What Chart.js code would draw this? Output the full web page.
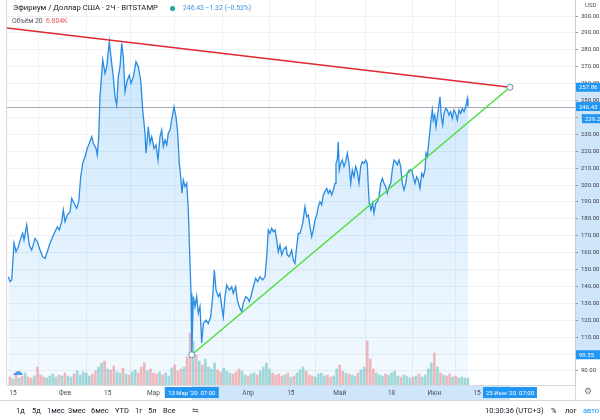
<!DOCTYPE html>
<html>
<head>
<meta charset="utf-8">
<title>ETHUSD 2Ч</title>
<script src="https://cdn.jsdelivr.net/npm/chart.js@4.4.1/dist/chart.umd.min.js"></script>
<style>
    html, body { margin: 0; padding: 0; background: #fff; }
    #wrap { position: relative; width: 600px; height: 420px; overflow: hidden; font-family: Roboto, "Noto Sans", sans-serif; color: #131722; }
    #myChart { position: absolute; left: 0; top: 0; }
    .t { position: absolute; white-space: nowrap; line-height: 1; }
    .bar span { position: absolute; top: 0; }
</style>
</head>
<body>
<div id="wrap">
    <canvas id="myChart" width="600" height="420"></canvas>

    <div class="t" style="left:13px;top:4px;font-size:7.7px;">Эфириум / Доллар США · 2Ч · BITSTAMP</div>
    <div style="position:absolute;left:170px;top:6px;width:5px;height:5px;border-radius:50%;background:#26a69a;"></div>
    <div class="t" style="left:183px;top:5px;font-size:6.8px;color:#3b8fe0;">246.43 −1.32 (−0.53%)</div>
    <div class="t" style="left:12px;top:18px;font-size:6.8px;color:#50535e;">Объём 20 &nbsp;<span style="color:#ef5350;">6.804K</span></div>
    <div class="t" style="left:585px;top:2px;font-size:6px;color:#50535e;">USD</div>
    <div class="t" style="left:12px;top:366px;font-size:11px;color:#4f9be6;">☁</div>
    <div class="t" style="left:584px;top:387px;font-size:9px;color:#787b86;">⚙</div>

    <div class="t bar" style="left:0;top:407px;font-size:7.5px;color:#131722;">
        <span style="left:16px">1д</span>
        <span style="left:32px">5д</span>
        <span style="left:47px">1мес</span>
        <span style="left:68px">3мес</span>
        <span style="left:91px">6мес</span>
        <span style="left:115px">YTD</span>
        <span style="left:135px">1г</span>
        <span style="left:148px">5л</span>
        <span style="left:163px">Все</span>
        <span style="left:192px;color:#787b86">⇆</span>
        <span style="left:485px">10:30:36 (UTC+3)</span>
        <span style="left:551px">%</span>
        <span style="left:565px">лог</span>
        <span style="left:583px;color:#2196f3">авто</span>
    </div>
</div>

<script>
// closes, 2h chart; day of 2020 (0 = 1 Jan)
const priceDays = [
    12.46, 13.02, 13.57, 14.33, 14.98, 15.74, 16.52, 17.18, 17.60, 18.49,
    19.34, 20.12, 21.20, 21.96, 22.84, 23.73, 24.48, 25.23, 26.12, 27.00,
    27.76, 28.51, 29.16, 29.95, 30.47, 31.03, 31.78, 32.67, 33.22, 33.98,
    34.86, 35.52, 36.17, 36.83, 37.58, 38.33, 38.99, 39.77, 40.30, 41.18,
    41.61, 42.07,
    42.49, 43.38, 44.13, 44.69, 45.54, 46.32, 46.85, 47.41, 47.96, 48.49,
    49.04, 49.60, 50.12, 50.68, 51.43, 52.09, 52.65, 53.40, 54.28, 55.04,
    55.82, 56.48, 57.23, 57.56, 58.31, 58.87, 59.42, 60.18, 60.83, 61.49,
    62.14, 62.70, 63.22, 63.78, 64.34, 64.86, 65.42, 65.97, 66.73, 67.38,
    67.94, 68.46, 68.92, 69.35, 69.77, 70.33, 70.89, 71.41, 71.97, 72.30,
    72.55, 73.05, 73.60, 74.16, 74.69,
    75.24, 75.80, 76.32, 77.21, 77.96, 78.75, 79.40, 79.93, 80.48, 81.24,
    81.79, 82.35, 82.87, 83.43, 83.99, 84.84, 85.62, 86.15, 86.93, 87.46,
    88.11, 88.90, 89.42, 90.21, 90.86, 91.39, 91.95, 92.70, 93.48, 94.14,
    94.89, 95.78, 96.53, 97.09, 97.61, 98.17, 98.72, 99.25, 99.81, 100.36,
    100.89, 101.44, 102.00, 102.52, 103.41, 103.83, 104.49, 105.27, 105.80, 106.36,
    106.91, 107.44,
    107.99, 108.88, 109.63, 110.19, 110.71, 111.27, 111.82, 112.35, 112.91, 113.46,
    113.99, 114.54, 115.10, 115.62, 116.18, 116.74, 117.26, 117.82, 118.37, 118.90,
    119.46, 119.78, 120.21, 120.53, 120.86, 121.32, 121.85, 122.40, 122.96, 123.48,
    124.04, 124.60, 125.12, 125.68, 126.23, 126.76, 127.32, 127.87, 128.40, 128.95,
    129.51, 130.03, 130.36, 130.69, 131.25, 131.80, 132.23, 132.79, 133.31, 133.87,
    134.42, 134.95, 135.50, 136.06, 136.58, 137.14, 137.70, 138.22, 138.78, 139.33,
    139.86, 140.42,
    140.97, 141.50, 142.05, 142.61, 143.13, 143.79, 144.57, 145.10, 145.66, 146.21,
    146.74, 147.29, 147.85, 148.37, 148.93, 149.26, 149.68, 150.14, 150.57, 150.90,
    151.32, 151.65, 152.11, 152.53, 152.96, 153.42, 153.84, 154.27, 154.73, 155.15,
    155.71, 156.23, 156.79, 157.34, 157.87, 158.43, 158.98, 159.51, 160.07, 160.62,
    161.15, 161.70, 162.26, 162.78, 163.01
];
const priceVals = [
    145.7, 142.8, 143.8, 165.7, 160.5, 163.5, 168.4, 171.4, 167.5, 176.3,
    164.5, 161.5, 168.4, 166.4, 161.5, 157.6, 156.6, 160.5, 165.5, 169.4,
    172.4, 175.3, 173.4, 178.3, 185.2, 178.3, 182.2, 184.2, 192.1, 189.2,
    186.2, 190.1, 204.9, 212.8, 216.7, 221.7, 224.7, 228.6, 224.7, 221.7,
    217.8, 228.6,
    252.2, 274.0, 266.0, 270.0, 284.8, 272.0, 264.0, 252.2, 247.3, 264.0,
    270.0, 283.8, 275.9, 255.2, 262.0, 265.0, 260.2, 264.0, 273.0, 270.0,
    262.0, 244.4, 230.6, 218.8, 234.5, 224.7, 228.6, 221.7, 223.7, 214.8,
    228.6, 232.5, 222.7, 226.6, 223.7, 230.6, 232.5, 238.5, 246.3, 240.4,
    230.6, 212.8, 204.9, 195.1, 203.0, 199.0, 201.0, 185.2, 153.7, 135.9,
    99.6, 134.0, 128.0, 134.0, 124.1,
    128.0, 106.5, 118.0, 120.0, 118.0, 122.0, 134.0, 149.7, 137.9, 134.0,
    135.9, 128.0, 122.0, 134.0, 140.8, 137.9, 139.8, 135.9, 139.8, 132.0,
    128.0, 125.0, 130.0, 134.0, 133.0, 131.0, 134.0, 139.8, 144.8, 142.8,
    145.7, 143.8, 145.7, 157.6, 173.4, 171.4, 174.4, 172.4, 173.4, 167.5,
    160.5, 164.5, 158.6, 161.5, 163.5, 158.6, 157.6, 161.5, 155.6, 153.7,
    163.5, 171.4,
    171.4, 177.3, 187.2, 181.3, 182.2, 175.4, 169.4, 173.4, 179.3, 182.2,
    187.2, 190.1, 188.2, 194.1, 196.1, 198.0, 195.1, 197.0, 194.1, 197.0,
    201.0, 212.8, 214.8, 225.6, 208.9, 212.8, 214.8, 210.9, 213.8, 218.8,
    212.8, 201.0, 208.9, 204.9, 210.9, 207.9, 201.0, 210.9, 213.8, 212.8,
    214.8, 212.8, 199.0, 189.2, 185.2, 189.2, 183.2, 189.2, 190.1, 193.1,
    201.0, 204.0, 201.0, 199.0, 195.1, 199.0, 201.0, 208.9, 214.8, 213.8,
    211.9, 214.8,
    210.9, 201.0, 197.0, 201.0, 206.9, 208.9, 208.9, 204.9, 201.0, 204.9,
    203.0, 198.0, 206.9, 204.9, 208.9, 218.8, 216.8, 224.7, 232.5, 238.4,
    244.4, 238.4, 241.4, 234.5, 240.4, 246.3, 252.2, 240.4, 235.5, 242.4,
    245.3, 244.4, 241.4, 243.4, 239.4, 244.4, 242.4, 238.4, 244.4, 242.4,
    245.3, 243.4, 246.3, 251.2, 246.43
];

// volume in K, one bar per day from 13 Jan
const volFirstDay = 13;
const volumes = [
    8, 6, 10, 7, 9, 12, 8, 7,
    9, 18, 10, 8, 7, 9, 11, 8, 10, 9,
    12, 9, 8, 11, 14, 10, 13, 12, 9, 11,
    14, 18, 22, 24, 16, 15, 19, 13, 12, 17,
    11, 10, 13, 15, 12, 18, 22, 14, 16, 12,
    11, 13, 10, 12, 9, 17, 20, 14, 16, 18,
    28, 52, 44, 30, 24, 20, 26, 18, 16, 22,
    15, 13, 17, 14, 12, 11, 13, 16, 14, 10,
    9, 11, 12, 10, 14, 18, 22, 16, 12, 10,
    11, 9, 10, 12, 8, 9, 12, 15, 18, 14,
    10, 9, 8, 11, 12, 9, 10, 8, 9, 16,
    20, 14, 12, 11, 10, 9, 12, 15, 18, 44,
    26, 16, 12, 10, 9, 11, 10, 12, 14, 9,
    8, 10, 9, 7, 8, 9, 11, 8, 10, 16,
    22, 32, 18, 12, 10, 9, 11, 8, 9, 7,
    8, 7, 7
];

// drawings
const redDays = [12.03, 176.77];
const redPrices = [292.96, 257.86];
const greenDays = [72.55, 176.77];
const greenPrices = [99.55, 257.86];

// axes
const timeTicks = [14, 31, 45, 60, 74, 91, 105, 121, 138, 152, 166];
const timeLabels = ['15', 'Фев', '15', 'Мар', '15', 'Апр', '15', 'Май', '18', 'Июн', '15'];
const priceTicks = [90, 100, 110, 120, 130, 140, 150, 160, 170, 180, 190, 200, 210, 220, 230, 240, 250, 260, 270, 280, 290, 300];
const axisMarks = [257.86, 246.43, 239.24, 99.55];
const timeMarkLabels = ["13 Мар '20  07:00", "25 Июн '20  07:00"];

Chart.defaults.font.family = 'Roboto, "Noto Sans", sans-serif';

function priceAt(d) {
    let best = 0;
    for (let i = 0; i < priceDays.length; i++) {
        if (Math.abs(priceDays[i] - d) < Math.abs(priceDays[best] - d)) best = i;
    }
    return priceVals[best];
}

const volData = volumes.map((v, i) => ({ x: volFirstDay + i, y: v }));
const volColors = volData.map(p => priceAt(p.x + 0.5) >= priceAt(p.x - 0.5) ? 'rgba(38,166,154,0.4)' : 'rgba(239,83,80,0.4)');

const tvDecor = {
    id: 'tvDecor',
    beforeDraw(chart) {
        const { ctx, chartArea: a, scales: { x, y } } = chart;
        ctx.save();
        ctx.fillStyle = '#fff';
        ctx.fillRect(0, 0, chart.width, chart.height);
        // selection bands on both axes
        ctx.fillStyle = '#cfe5fa';
        const yTop = y.getPixelForValue(greenPrices[1]);
        const yBot = y.getPixelForValue(greenPrices[0]);
        ctx.fillRect(a.right, yTop, chart.width - a.right, yBot - yTop);
        const xL = x.getPixelForValue(greenDays[0]);
        const xR = x.getPixelForValue(greenDays[1]);
        ctx.fillRect(xL, a.bottom + 1, xR - xL, 14);
        ctx.restore();
    },
    beforeDatasetsDraw(chart) {
        const { ctx, chartArea: a, scales: { y } } = chart;
        const py = Math.round(y.getPixelForValue(priceVals[priceVals.length - 1])) + 0.5;
        ctx.save();
        ctx.strokeStyle = '#a3aab6';
        ctx.lineWidth = 1;
        ctx.beginPath();
        ctx.moveTo(a.left, py);
        ctx.lineTo(a.right, py);
        ctx.stroke();
        ctx.restore();
    },
    afterDraw(chart) {
        const { ctx, chartArea: a, scales: { x, y } } = chart;
        ctx.save();
        // borders
        ctx.strokeStyle = '#d6d9e0';
        ctx.lineWidth = 1;
        ctx.beginPath();
        ctx.moveTo(a.left - 0.5, 0);
        ctx.lineTo(a.left - 0.5, a.bottom);
        ctx.moveTo(a.right + 0.5, a.bottom);
        ctx.lineTo(a.right + 0.5, 400);
        ctx.moveTo(0, 400.5);
        ctx.lineTo(chart.width, 400.5);
        ctx.stroke();

        // price labels on the axis
        ctx.font = '6px Roboto';
        ctx.textBaseline = 'middle';
        ctx.textAlign = 'left';
        axisMarks.forEach((v, i) => {
            const py = y.getPixelForValue(v);
            const left = i === 2 ? 582 : a.right + 1;
            ctx.fillStyle = '#2196f3';
            ctx.fillRect(left, py - 4.5, chart.width - left, 9);
            ctx.fillStyle = '#fff';
            ctx.fillText(v.toFixed(2), left + 3, py + 0.5);
        });

        // time labels of the drawing
        ctx.textAlign = 'center';
        greenDays.forEach((d, i) => {
            const px = x.getPixelForValue(d);
            ctx.fillStyle = '#2196f3';
            ctx.fillRect(px - 27, a.bottom + 2, 54, 11);
            ctx.fillStyle = '#fff';
            ctx.fillText(timeMarkLabels[i], px, a.bottom + 8);
        });
        ctx.restore();
    }
};

const ctx = document.getElementById('myChart');
new Chart(ctx, {
    type: 'line',
    data: {
        datasets: [
            {
                type: 'bar',
                label: 'Объём',
                data: volData,
                backgroundColor: volColors,
                barThickness: 2,
                yAxisID: 'yVol',
                order: 3
            },
            {
                label: 'ETHUSD',
                data: priceDays.map((d, i) => ({ x: d, y: priceVals[i] })),
                borderColor: '#2a8be3',
                borderWidth: 1.3,
                pointRadius: 0,
                tension: 0,
                fill: 'start',
                backgroundColor: function (c) {
                    const area = c.chart.chartArea;
                    if (!area) return 'rgba(33,150,243,0.15)';
                    const g = c.chart.ctx.createLinearGradient(0, area.top, 0, area.bottom);
                    g.addColorStop(0, 'rgba(33,150,243,0.26)');
                    g.addColorStop(1, 'rgba(33,150,243,0.05)');
                    return g;
                },
                yAxisID: 'y',
                order: 2
            },
            {
                label: 'red',
                data: redDays.map((d, i) => ({ x: d, y: redPrices[i] })),
                borderColor: '#e3262f',
                borderWidth: 1.5,
                pointRadius: 0,
                yAxisID: 'y',
                order: 1
            },
            {
                label: 'green',
                data: greenDays.map((d, i) => ({ x: d, y: greenPrices[i] })),
                borderColor: '#4ddf3c',
                borderWidth: 1.5,
                pointRadius: 3,
                pointBorderWidth: 1,
                pointBackgroundColor: '#fff',
                pointBorderColor: '#6a8fc0',
                yAxisID: 'y',
                order: 0
            }
        ]
    },
    options: {
        responsive: false,
        devicePixelRatio: 1,
        animation: false,
        layout: { autoPadding: false, padding: { left: 7, top: 0, right: 0, bottom: 20 } },
        plugins: {
            legend: { display: false },
            tooltip: { enabled: false }
        },
        scales: {
            x: {
                type: 'linear',
                min: 12.03,
                max: 198.06,
                offset: false,
                afterBuildTicks: (scale) => {
                    scale.ticks = timeTicks.map(v => ({ value: v }));
                },
                afterFit: (scale) => {
                    scale.height = 15;
                    scale.paddingLeft = 0;
                    scale.paddingRight = 0;
                },
                grid: { color: '#eef1f6', drawTicks: false },
                border: { color: '#d6d9e0' },
                ticks: {
                    autoSkip: false,
                    maxRotation: 0,
                    padding: 4,
                    color: '#4a4e59',
                    font: { size: 6.5 },
                    callback: (v) => timeLabels[timeTicks.indexOf(v)]
                }
            },
            y: {
                position: 'right',
                min: 81.66,
                max: 309.47,
                afterBuildTicks: (scale) => {
                    scale.ticks = priceTicks.map(v => ({ value: v }));
                },
                afterFit: (scale) => {
                    scale.width = 25;
                    scale.paddingTop = 0;
                    scale.paddingBottom = 0;
                },
                grid: { color: '#eef1f6', tickLength: 3, tickColor: '#9598a1' },
                border: { color: '#c9ccd4' },
                ticks: {
                    padding: 3,
                    color: '#3c3f48',
                    font: { size: 6 },
                    callback: (v) => v.toFixed(2)
                }
            },
            yVol: {
                display: false,
                min: 0,
                max: 385
            }
        }
    },
    plugins: [tvDecor]
});
</script>
</body>
</html>
